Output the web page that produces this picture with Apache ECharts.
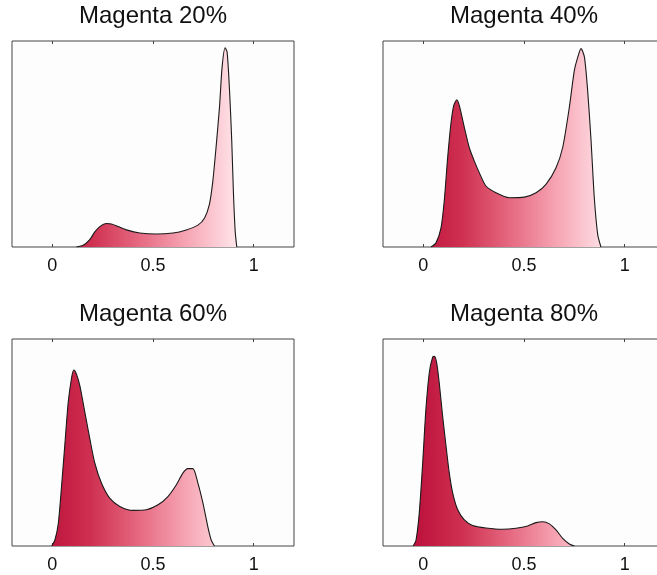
<!DOCTYPE html>
<html>
<head>
<meta charset="utf-8">
<script src="https://cdn.jsdelivr.net/npm/echarts@6/dist/echarts.min.js"></script>
<style>
html,body{margin:0;padding:0;background:#ffffff;overflow:hidden;}
#chart{width:680px;height:575px;}
</style>
</head>
<body>
<div id="chart"></div>
<script>
// Panel titles
const titles = ['Magenta 20%', 'Magenta 40%', 'Magenta 60%', 'Magenta 80%'];
// x tick values
const tickValues = [0, 0.5, 1];
const xMin = -0.2, xMax = 1.2;

// Density curves, [x, relative height]
const magenta20 = [
  [0.12,0],[0.153,0.008],[0.186,0.036],[0.211,0.073],[0.236,0.099],[0.269,0.114],[0.294,0.112],
  [0.327,0.099],[0.368,0.083],[0.434,0.068],[0.517,0.063],[0.599,0.068],[0.665,0.083],[0.723,0.106],
  [0.756,0.141],[0.780,0.207],[0.797,0.320],[0.813,0.483],[0.830,0.678],[0.843,0.873],[0.858,0.967],
  [0.868,0.946],[0.880,0.759],[0.891,0.515],[0.899,0.272],[0.908,0.076],[0.916,0]
];
const magenta40 = [
  [0.038,0],[0.063,0.02],[0.088,0.093],[0.104,0.223],[0.121,0.434],[0.137,0.597],[0.151,0.686],
  [0.166,0.714],[0.179,0.686],[0.204,0.580],[0.228,0.483],[0.253,0.418],[0.278,0.361],[0.311,0.296],
  [0.361,0.263],[0.427,0.239],[0.502,0.242],[0.560,0.263],[0.609,0.304],[0.659,0.385],[0.692,0.483],
  [0.725,0.678],[0.750,0.857],[0.767,0.922],[0.783,0.963],[0.800,0.922],[0.816,0.759],[0.833,0.515],
  [0.849,0.239],[0.866,0.060],[0.882,0]
];
const magenta60 = [
  [-0.003,0],[0.013,0.029],[0.030,0.110],[0.046,0.288],[0.063,0.498],[0.079,0.693],[0.096,0.814],
  [0.107,0.850],[0.120,0.830],[0.137,0.773],[0.162,0.644],[0.187,0.515],[0.211,0.401],[0.244,0.304],
  [0.285,0.231],[0.335,0.191],[0.401,0.172],[0.467,0.175],[0.525,0.199],[0.574,0.239],[0.616,0.296],
  [0.649,0.353],[0.673,0.374],[0.698,0.374],[0.723,0.304],[0.748,0.207],[0.772,0.094],[0.789,0.029],
  [0.805,0]
];
const magenta80 = [
  [-0.050,0],[-0.036,0.029],[-0.020,0.159],[-0.003,0.401],[0.013,0.660],[0.030,0.838],[0.046,0.911],
  [0.055,0.916],[0.066,0.887],[0.079,0.790],[0.096,0.628],[0.113,0.482],[0.129,0.353],[0.146,0.256],
  [0.171,0.175],[0.204,0.126],[0.245,0.099],[0.311,0.087],[0.394,0.081],[0.460,0.086],[0.518,0.097],
  [0.560,0.113],[0.593,0.117],[0.626,0.107],[0.659,0.078],[0.692,0.037],[0.725,0.010],[0.750,0]
];
const seriesData = [magenta20, magenta40, magenta60, magenta80];

// Layout
const grids = [
  {left: 12, top: 41, width: 282, height: 206},
  {left: 383, top: 41, width: 282, height: 206},
  {left: 12, top: 339, width: 282, height: 207},
  {left: 383, top: 339, width: 282, height: 207}
];
const titleCenters = [[153, 4], [524, 4], [153, 302], [524, 302]];

const chart = echarts.init(document.getElementById('chart'), null, {renderer: 'canvas'});
const FONT = 'Liberation Sans, Arial, Helvetica, sans-serif';

const option = {
  backgroundColor: '#ffffff',
  animation: false,
  title: titles.map((t, i) => ({
    text: t,
    left: titleCenters[i][0],
    top: titleCenters[i][1],
    textAlign: 'center',
    padding: 0,
    textStyle: {fontFamily: FONT, fontSize: 24, fontWeight: 'normal', color: '#111'}
  })),
  grid: grids.map(g => Object.assign({show: true, borderColor: '#444', borderWidth: 1, backgroundColor: '#fdfdfd'}, g)),
  xAxis: [],
  yAxis: [],
  visualMap: {
    type: 'continuous',
    show: false,
    dimension: 0,
    seriesIndex: [0, 1, 2, 3],
    min: -0.05,
    max: 0.92,
    inRange: {color: ['#bb103c', '#cf3050', '#e66a82', '#f7a8b6', '#ffe6eb']}
  },
  series: []
};

for (let i = 0; i < 4; i++) {
  option.xAxis.push({
    type: 'value', gridIndex: i, min: xMin, max: xMax, position: 'bottom',
    axisLine: {show: false},
    splitLine: {show: false},
    axisTick: {show: true, inside: true, length: 3, customValues: tickValues, lineStyle: {color: '#444'}},
    axisLabel: {show: true, customValues: tickValues, margin: 10, fontFamily: FONT, fontSize: 18, color: '#111'}
  });
  option.xAxis.push({
    type: 'value', gridIndex: i, min: xMin, max: xMax, position: 'top',
    axisLine: {show: false},
    splitLine: {show: false},
    axisTick: {show: true, inside: true, length: 3, customValues: tickValues, lineStyle: {color: '#444'}},
    axisLabel: {show: false}
  });
  option.yAxis.push({
    type: 'value', gridIndex: i, min: 0, max: 1,
    show: false, splitLine: {show: false}
  });
  option.series.push({
    type: 'line',
    xAxisIndex: i * 2,
    yAxisIndex: i,
    data: seriesData[i],
    showSymbol: false,
    smooth: 0.25,
    lineStyle: {color: '#1a1a1a', width: 1.1},
    areaStyle: {opacity: 1},
    z: 1
  });
}

chart.setOption(option);
</script>
</body>
</html>
